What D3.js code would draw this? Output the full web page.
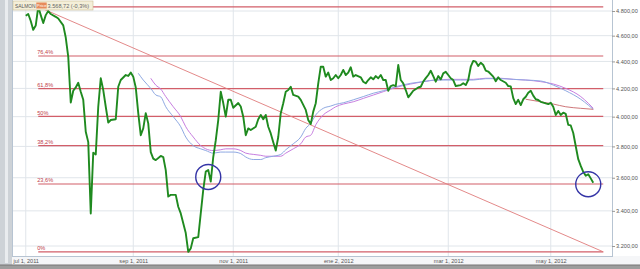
<!DOCTYPE html>
<html>
<head>
<meta charset="utf-8">
<script src="https://cdn.jsdelivr.net/npm/d3@7"></script>
<style>
	body { margin: 0; background: #fff; overflow: hidden; }
	svg text { font-family: "Liberation Sans", Arial, sans-serif; }
	.axis path { display: none; }
	.axis text { font-size: 5.6px; fill: #555; }
	.axis line { stroke: #999; }
</style>
</head>
<body>
<div class="chart"></div>
<script>
// price per trading session (session 0 = jul 1, 2011)
const sessions = [0,1,2,3,4,5,6,7,8,9,10,12,13,15,16,17,18,19,20,21,22,23,24,25,26,27,28,29,30,31,32,33,34,36,37,38,40,41,42,43,44,45,46,47,48,49,50,51,52,54,55,56,57,58,60,61,62,64,65,66,67,69,70,71,72,73,74,75,76,77,78,79,80,81,82,83,85,86,87,88,89,90,92,93,94,95,96,97,98,99,100,101,102,103,104,105,106,107,109,110,111,112,113,114,115,116,117,118,119,120,121,122,123,124,125,126,127,128,129,130,131,132,134,135,136,137,138,139,140,141,142,143,144,145,146,147,148,149,150,151,152,153,154,155,157,158,159,160,161,162,163,164,165,166,167,168,169,170,171,172,174,175,176,177,178,179,180,181,182,183,184,185,187,188,189,190,192,193,194,195,196,197,198,199,200,201,202,203,204,205,206,208,209,210,211,212,213,214,215,216,217,218,219,220,221,222,223,224,225,226,227];
const prices = [4760,4775,4718,4646,4682,4835,4766,4701,4766,4800,4775,4752,4738,4682,4585,4435,4099,4183,4207,4241,4176,4118,3897,3828,3385,3759,3748,4069,4274,4188,4069,3959,3977,3982,4212,4261,4298,4291,4316,4286,4207,4024,3874,3920,4024,3954,3763,3721,3711,3738,3731,3648,3485,3495,3495,3424,3385,3272,3168,3187,3243,3249,3385,3525,3638,3648,3576,3731,3839,3977,4176,4095,4000,4118,4118,4062,4095,4071,4000,3874,3920,3909,3931,3982,4012,3982,4012,3931,3886,3828,3773,3862,4024,4094,4176,4188,4212,4153,4141,4118,4082,4047,3977,3949,4035,4094,4237,4360,4360,4286,4316,4261,4274,4298,4274,4298,4336,4298,4316,4356,4286,4298,4281,4249,4237,4261,4281,4266,4290,4274,4298,4261,4261,4183,4217,4224,4217,4373,4261,4237,4188,4136,4159,4183,4207,4212,4249,4275,4298,4330,4290,4249,4290,4266,4310,4322,4298,4274,4261,4217,4224,4237,4224,4261,4360,4404,4398,4366,4390,4373,4331,4324,4286,4252,4281,4261,4241,4217,4215,4130,4088,4118,4081,4122,4140,4169,4183,4148,4122,4117,4104,4093,4088,4097,4069,4012,4040,4012,4028,4019,3944,3940,3889,3801,3717,3674,3637,3612,3622,3596,3569];

// moving averages as shown on the chart
const maFastSessions = [45,47,50,52,54,56,59,62,64,67,70,72,75,78,80,83,86,88,91,94,96,99,102,104,107,110,112,114,116,119,122,124,127,131,135,139,143,148,154,159,164,170,174,179,184,190,195,200,206,211,216,222,225,227];
const maFast = [4311,4261,4200,4153,4139,4069,4000,3931,3862,3805,3784,3773,3756,3763,3763,3763,3753,3731,3715,3715,3727,3736,3748,3778,3817,3862,3920,3954,4012,4058,4074,4086,4097,4118,4141,4165,4183,4212,4237,4249,4261,4261,4261,4261,4271,4271,4266,4261,4254,4224,4183,4122,4081,4051];
const maSlowSessions = [50,52,54,56,59,62,64,67,70,72,75,78,80,83,86,88,91,94,96,99,102,104,107,110,112,114,116,119,122,124,127,131,135,139,143,148,154,159,164,170,174,179,184,190,195,200,206,211,216,222,225,227];
const maSlow = [4274,4224,4195,4141,4069,4000,3931,3862,3805,3784,3773,3778,3784,3784,3773,3756,3748,3742,3736,3736,3736,3756,3784,3817,3862,3874,3944,4012,4047,4069,4088,4104,4128,4152,4176,4207,4232,4249,4261,4266,4266,4266,4274,4274,4266,4261,4249,4232,4200,4141,4094,4058];
const maLongSessions = [200,206,211,216,222,227];
const maLong = [4122,4104,4088,4069,4058,4051];

const fibRatios = [0, 0.236, 0.382, 0.5, 0.618, 0.764, 1];
const fibLabels = ['0%', '23,6%', '38,2%', '50%', '61,8%', '76,4%', ''];
const fibEndSession = 231;

const yTicks = [3200, 3400, 3600, 3800, 4000, 4200, 4400, 4600, 4800];
const xTickSessions = [0, 43, 83, 125, 169, 210];
const xTickLabels = ['jul 1, 2011', 'sep 1, 2011', 'nov 1, 2011', 'ene 2, 2012', 'mar 1, 2012', 'may 1, 2012'];

const circleSessions = [73, 225];
const circleValues = [3605, 3560];

const legendName = 'SALMON';
const legendSeries = 'Price';
const legendValue = '3.568,72 (-0,3%)';

const W = 640, H = 269;
const plot = { left: 12, right: 612, top: 0, bottom: 256 };

const es = d3.formatLocale({ decimal: ',', thousands: '.', grouping: [3], currency: ['', '€'] });
const fmt = es.format(',.2f');

const x = d3.scaleLinear().domain([0, 227]).range([25.75, 593.25]);
const y = d3.scaleLog().domain([3200, 4800]).range([246, 11]);

const svg = d3.select('.chart').append('svg').attr('width', W).attr('height', H);

// frame
svg.append('rect').attr('width', W).attr('height', H).attr('fill', '#fff');
svg.append('rect').attr('x', 0).attr('y', 0).attr('width', plot.left).attr('height', H).attr('fill', '#cdd2d7');
svg.append('rect').attr('x', 5).attr('y', 0).attr('width', 3).attr('height', 263).attr('fill', '#e9ecef');
svg.append('rect').attr('x', plot.left).attr('y', plot.bottom).attr('width', W - plot.left).attr('height', 9).attr('fill', '#f5f6f8');
svg.append('rect').attr('x', 0).attr('y', 265).attr('width', W).attr('height', 4).attr('fill', '#9d9d9d');
svg.append('line').attr('x1', 0).attr('x2', W).attr('y1', 265).attr('y2', 265).attr('stroke', '#777');

const g = svg.append('g');

// grid
g.selectAll('.hgrid').data(yTicks).enter().append('line')
	.attr('x1', plot.left).attr('x2', plot.right)
	.attr('y1', d => y(d)).attr('y2', d => y(d))
	.attr('stroke', '#e0e5ea').attr('stroke-width', 1);
g.selectAll('.vgrid').data(xTickSessions).enter().append('line')
	.attr('x1', d => x(d)).attr('x2', d => x(d))
	.attr('y1', plot.top).attr('y2', plot.bottom)
	.attr('stroke', '#e0e5ea').attr('stroke-width', 1);

// fibonacci retracement from high to low
const hiIdx = d3.maxIndex(prices), loIdx = d3.minIndex(prices);
const hi = prices[hiIdx], lo = prices[loIdx];
const fibStart = sessions[hiIdx];
const levels = fibRatios.map((r, i) => ({ v: lo + r * (hi - lo), label: fibLabels[i] }));

g.selectAll('.fib').data(levels).enter().append('line')
	.attr('x1', x(fibStart)).attr('x2', x(fibEndSession))
	.attr('y1', d => y(d.v)).attr('y2', d => y(d.v))
	.attr('stroke', '#d25e69').attr('stroke-width', 1.2);
g.selectAll('.fibLabel').data(levels.filter(d => d.label)).enter().append('text')
	.attr('x', x(fibStart) - 1).attr('y', d => y(d.v) - 1.5)
	.attr('font-size', '5.6px').attr('fill', '#c0404a')
	.text(d => d.label);

// trend line
g.append('line')
	.attr('x1', x(fibStart)).attr('y1', y(hi))
	.attr('x2', x(fibEndSession)).attr('y2', y(lo))
	.attr('stroke', '#e07c7c').attr('stroke-width', 0.9);

// moving averages
function maLine(xs, vs, color, w) {
	const line = d3.line().x((d, i) => x(xs[i])).y(d => y(d)).curve(d3.curveMonotoneX);
	g.append('path').datum(vs).attr('d', line)
		.attr('fill', 'none').attr('stroke', color).attr('stroke-width', w);
}
maLine(maSlowSessions, maSlow, '#c77ee0', 1);
maLine(maFastSessions, maFast, '#8fa9e2', 1);
maLine(maLongSessions, maLong, '#c8676a', 0.9);

// price
const priceLine = d3.line().x((d, i) => x(sessions[i])).y(d => y(d));
g.append('path').datum(prices).attr('d', priceLine)
	.attr('fill', 'none').attr('stroke', '#1f8a1f').attr('stroke-width', 1.9)
	.attr('stroke-linejoin', 'round');

// annotations
g.selectAll('.ring').data(circleSessions).enter().append('circle')
	.attr('cx', d => x(d)).attr('cy', (d, i) => y(circleValues[i]))
	.attr('r', 12.5).attr('fill', 'none')
	.attr('stroke', '#3434a6').attr('stroke-width', 1.4);

// plot border
svg.append('rect').attr('x', plot.left + 0.5).attr('y', -1)
	.attr('width', plot.right - plot.left).attr('height', plot.bottom + 1.5)
	.attr('fill', 'none').attr('stroke', '#b7c4d2');

// axes
svg.append('g').attr('class', 'axis').attr('transform', `translate(${plot.right},0)`)
	.call(d3.axisRight(y).tickValues(yTicks).tickFormat(fmt).tickSize(3).tickPadding(1));
svg.append('g').attr('class', 'axis').attr('transform', `translate(0,${plot.bottom})`)
	.call(d3.axisBottom(x).tickValues(xTickSessions).tickFormat((d, i) => xTickLabels[i]).tickSize(0).tickPadding(3));

// legend
const lg = svg.append('g').attr('transform', 'translate(13,1)');
lg.append('rect').attr('width', 80).attr('height', 9).attr('fill', '#f4efd9').attr('stroke', '#cbbd95').attr('stroke-width', 0.6);
lg.append('text').attr('x', 2).attr('y', 6.8).attr('font-size', '4.9px').attr('fill', '#555').text(legendName);
lg.append('rect').attr('x', 23.3).attr('y', 1.5).attr('width', 10.4).attr('height', 6).attr('fill', '#e78a5a');
lg.append('text').attr('x', 23.8).attr('y', 6.3).attr('font-size', '4.3px').attr('fill', '#fff').text(legendSeries);
lg.append('text').attr('x', 34.5).attr('y', 7).attr('font-size', '5.6px').attr('fill', '#666').text(legendValue);
</script>
</body>
</html>
